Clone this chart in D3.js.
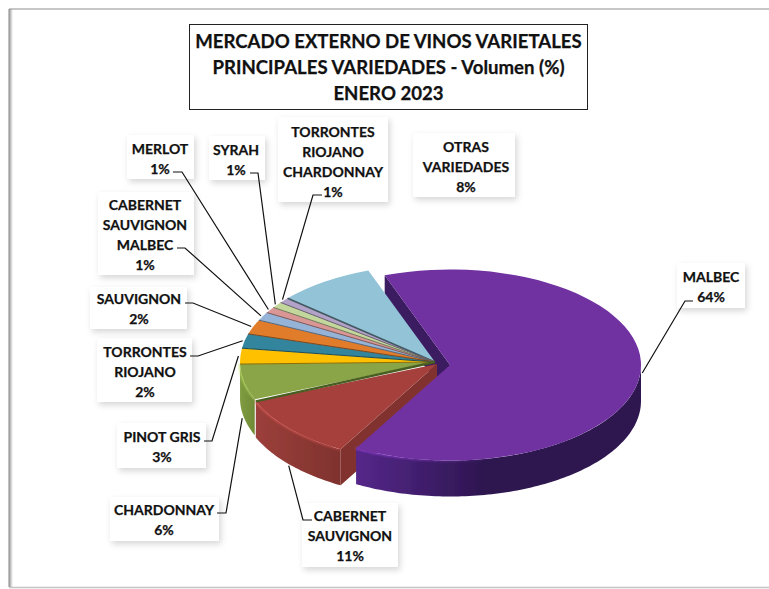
<!DOCTYPE html>
<html>
<head>
<meta charset="utf-8">
<script src="https://cdn.jsdelivr.net/npm/d3@7"></script>
<style>
	html, body { margin: 0; padding: 0; background: #fff; }
	svg { display: block; }
	text { font-family: Lato, "Open Sans", sans-serif; font-weight: 700; fill: #111; stroke: #111; stroke-width: 0.25px; }
</style>
</head>
<body>
<div id="chart"></div>
<script>
const titleLines = ['MERCADO EXTERNO DE VINOS VARIETALES', 'PRINCIPALES VARIEDADES - Volumen (%)', 'ENERO 2023'];

const varieties = [
	['MALBEC'],
	['CABERNET', 'SAUVIGNON'],
	['CHARDONNAY'],
	['PINOT GRIS'],
	['TORRONTES', 'RIOJANO'],
	['SAUVIGNON'],
	['CABERNET', 'SAUVIGNON', 'MALBEC'],
	['MERLOT'],
	['SYRAH'],
	['TORRONTES', 'RIOJANO', 'CHARDONNAY'],
	['OTRAS', 'VARIEDADES']
];
const volumes = [63.8, 10.6, 5.9, 2.6, 2.4, 2.4, 1.4, 1.0, 1.0, 0.9, 8.1];
const colors = ['#7030a0', '#a5403d', '#8aa546', '#ffc000', '#31859c', '#e07c2c', '#95b3d7', '#d99694', '#c3d69b', '#b3a2c7', '#92c3d7'];
const wallColors = [
	['#55278a', '#2d1650'], ['#9c3f3b', '#7f322e'], ['#7f9c40', '#6f8a36'], null, null, null, null, null, null, null, null
];

// label boxes: text centre x, y then box left, top, right, bottom
const labelBoxes = [
	[711, 286, 677, 263, 745, 308],
	[350, 535, 302, 503, 398, 567],
	[164, 519, 110, 497, 219, 541],
	[162, 446, 117, 423, 206, 468],
	[145, 371, 97, 338, 192, 402],
	[139, 308, 90, 287, 187, 329],
	[145, 234, 98, 192, 194, 275],
	[160, 158, 127, 135, 194, 179],
	[236, 159, 209, 136, 265, 180],
	[333, 161, 278, 117, 388, 202],
	[466, 166, 413, 133, 515, 197]
];
// leader: end of the short dash next to the label, then its elbow
const leaderEnds = [
	[[693, 301], [685, 301]],
	[[312, 520], [303, 520]],
	[[217, 513], [226, 513]],
	[[204, 441], [212, 441]],
	[[190, 356], [198, 356]],
	[[185, 303], [193, 303]],
	[[177, 248], [185, 248]],
	[[173, 172], [182, 172]],
	[[250, 173], [258, 173]],
	[[322, 195], [313, 195]],
	null
];

const WIDTH = 769;
const HEIGHT = 589;
const CX = 435;
const CY = 362;
const RADIUS = 195;
const SQUASH = 0.5;
const DEPTH = 36;
const START = -20 * Math.PI / 180;
const offsets = [[15, 3], [2, 2], [0, 0], [0, 0], [0, 0], [0, 0], [0, 0], [0, 0], [0, 0], [0, 0], [0, 0]];
const radii = [191, RADIUS + 1, RADIUS, RADIUS, RADIUS, RADIUS, RADIUS, RADIUS, RADIUS, RADIUS, RADIUS];

const svg = d3.select('#chart').append('svg')
	.attr('width', WIDTH)
	.attr('height', HEIGHT);

const defs = svg.append('defs');

const shadow = defs.append('filter').attr('id', 'box-shadow')
	.attr('x', '-20%').attr('y', '-20%').attr('width', '150%').attr('height', '150%');
shadow.append('feDropShadow')
	.attr('dx', 2).attr('dy', 3).attr('stdDeviation', 3)
	.attr('flood-color', '#000').attr('flood-opacity', 0.16);

defs.append('filter').attr('id', 'soft')
	.append('feGaussianBlur').attr('stdDeviation', 0.9);

defs.append('filter').attr('id', 'pie-soft')
	.append('feGaussianBlur').attr('stdDeviation', 0.4);

const frameShadow = defs.append('linearGradient').attr('id', 'frame-left');
frameShadow.append('stop').attr('offset', '0%').attr('stop-color', '#999');
frameShadow.append('stop').attr('offset', '100%').attr('stop-color', '#fff');

// frame
svg.append('rect').attr('x', 9).attr('y', 9).attr('width', 4).attr('height', 578).attr('fill', 'url(#frame-left)');
svg.append('line').attr('x1', 9).attr('x2', WIDTH).attr('y1', 9).attr('y2', 9).attr('stroke', '#8f8f8f').attr('stroke-width', 1.2);
svg.append('line').attr('x1', 9).attr('x2', 9).attr('y1', 9).attr('y2', 587).attr('stroke', '#9a9a9a').attr('stroke-width', 1.2);
svg.append('line').attr('x1', 9).attr('x2', WIDTH).attr('y1', 587.5).attr('y2', 587.5).attr('stroke', '#c4c4c4').attr('stroke-width', 1.5);

// title
svg.append('rect')
	.attr('x', 189.5).attr('y', 24.5).attr('width', 398).attr('height', 85)
	.attr('fill', '#fff').attr('stroke', '#222').attr('stroke-width', 1);
svg.append('g').selectAll('text').data(titleLines).join('text')
	.attr('x', 388.5)
	.attr('y', (d, i) => 41 + i * 26)
	.attr('text-anchor', 'middle')
	.attr('dominant-baseline', 'central')
	.style('font-size', '18.6px')
	.text(d => d);

const pie = d3.pie().sort(null).startAngle(START).endAngle(START + 2 * Math.PI);
const slices = pie(volumes);
const arc = d3.arc().innerRadius(0);
const line = d3.line();

const centerOf = function(i) {
	return [CX + offsets[i][0], CY + offsets[i][1]];
};

const rimPoint = function(i, angle, scale) {
	const c = centerOf(i);
	const r = radii[i] * (scale || 1);
	return [c[0] + r * Math.sin(angle), c[1] - r * Math.cos(angle) * SQUASH];
};

const rimPoints = function(i, a0, a1) {
	const steps = Math.ceil(Math.abs(a1 - a0) / 0.02);
	return d3.range(steps + 1).map(k => rimPoint(i, a0 + (a1 - a0) * k / steps));
};

const drawFace = function(parent, i, angle, fill) {
	const c = centerOf(i);
	const p = rimPoint(i, angle);
	parent.append('path')
		.attr('d', line([p, c, [c[0], c[1] + DEPTH], [p[0], p[1] + DEPTH]]) + 'Z')
		.attr('fill', fill);
};

const drawTop = function(parent, i) {
	const c = centerOf(i);
	parent.append('path')
		.attr('d', arc.outerRadius(radii[i])(slices[i]))
		.attr('transform', `translate(${c[0]},${c[1]}) scale(1,${SQUASH})`)
		.attr('fill', colors[i]);
};

const drawWall = function(parent, i) {
	if (!wallColors[i]) return;
	const a0 = Math.max(slices[i].startAngle, Math.PI / 2);
	const a1 = Math.min(slices[i].endAngle, 3 * Math.PI / 2);
	if (a1 <= a0) return;
	const upper = rimPoints(i, a0, a1);
	const lower = upper.map(p => [p[0], p[1] + DEPTH]).reverse();
	const xs = d3.extent(upper, p => p[0]);
	const grad = defs.append('linearGradient').attr('id', `wall-${i}`)
		.attr('gradientUnits', 'userSpaceOnUse')
		.attr('x1', xs[0]).attr('x2', xs[1]).attr('y1', 0).attr('y2', 0);
	grad.append('stop').attr('offset', '0%').attr('stop-color', wallColors[i][0]);
	grad.append('stop').attr('offset', i === 0 ? '45%' : '100%').attr('stop-color', wallColors[i][1]);
	parent.append('path')
		.attr('d', line(upper.concat(lower)) + 'Z')
		.attr('fill', `url(#wall-${i})`);

	// lighter bevel where the top meets the wall
	const light = d3.color(colors[i]).brighter(0.9);
	const bevel = defs.append('linearGradient').attr('id', `bevel-${i}`)
		.attr('gradientUnits', 'userSpaceOnUse')
		.attr('x1', xs[0]).attr('x2', xs[1]).attr('y1', 0).attr('y2', 0);
	bevel.append('stop').attr('offset', '0%').attr('stop-color', light).attr('stop-opacity', 0.95);
	bevel.append('stop').attr('offset', i === 0 ? '50%' : '100%').attr('stop-color', light).attr('stop-opacity', i === 0 ? 0 : 0.6);
	parent.append('path')
		.attr('d', line(upper))
		.attr('fill', 'none')
		.attr('stroke', `url(#bevel-${i})`)
		.attr('stroke-width', 2)
		.attr('filter', 'url(#soft)');
};

const pieGroup = svg.append('g').attr('filter', 'url(#pie-soft)');

// purple cut face goes behind everything else
drawFace(pieGroup, 0, slices[0].startAngle, '#3a1a60');

const small = d3.range(1, volumes.length).reverse();
small.forEach(i => drawWall(pieGroup, i));
drawFace(pieGroup, 1, slices[1].startAngle, '#82332f');
small.forEach(i => drawTop(pieGroup, i));

// dark seams on the low edge of each small slice
small.filter(i => i > 2).forEach(i => {
	pieGroup.append('path')
		.attr('d', line([centerOf(i), rimPoint(i, slices[i].startAngle)]))
		.attr('fill', 'none')
		.attr('stroke', d3.color(colors[i]).darker(i === 10 ? 2.2 : 1.6))
		.attr('stroke-width', i === 10 ? 1.8 : 1);
});
// green meets red along the red edge, the seam closes the gap between them
pieGroup.append('path')
	.attr('d', line([[CX, CY], rimPoint(1, slices[1].endAngle)]))
	.attr('fill', 'none')
	.attr('stroke', '#4a5e24')
	.attr('stroke-width', 2.4);

drawWall(pieGroup, 0);
drawTop(pieGroup, 0);

// labels
const labelGroup = svg.append('g');
const labels = labelGroup.selectAll('g').data(varieties).join('g');

labels.append('rect')
	.attr('x', (d, i) => labelBoxes[i][2])
	.attr('y', (d, i) => labelBoxes[i][3])
	.attr('width', (d, i) => labelBoxes[i][4] - labelBoxes[i][2])
	.attr('height', (d, i) => labelBoxes[i][5] - labelBoxes[i][3])
	.attr('fill', '#fff')
	.attr('filter', 'url(#box-shadow)');

labels.each(function(d, i) {
	const rows = d.concat(`${Math.round(volumes[i])}%`);
	d3.select(this).selectAll('text').data(rows).join('text')
		.attr('x', labelBoxes[i][0])
		.attr('y', (r, k) => labelBoxes[i][1] + (k - (rows.length - 1) / 2) * 20)
		.attr('text-anchor', 'middle')
		.attr('dominant-baseline', 'central')
		.style('font-size', '14px')
		.text(r => r);
});

// leaders sit over the boxes so the short dashes stay visible
const leaderGroup = svg.append('g');
leaderEnds.forEach((ends, i) => {
	if (!ends) return;
	const mid = (slices[i].startAngle + slices[i].endAngle) / 2;
	const p = rimPoint(i, mid, 1.01);
	if (mid > Math.PI && mid < 3 * Math.PI / 2) p[1] += DEPTH;
	leaderGroup.append('path')
		.attr('d', line([ends[0], ends[1], p]))
		.attr('fill', 'none')
		.attr('stroke', '#111')
		.attr('stroke-width', 1.2);
});
</script>
</body>
</html>
